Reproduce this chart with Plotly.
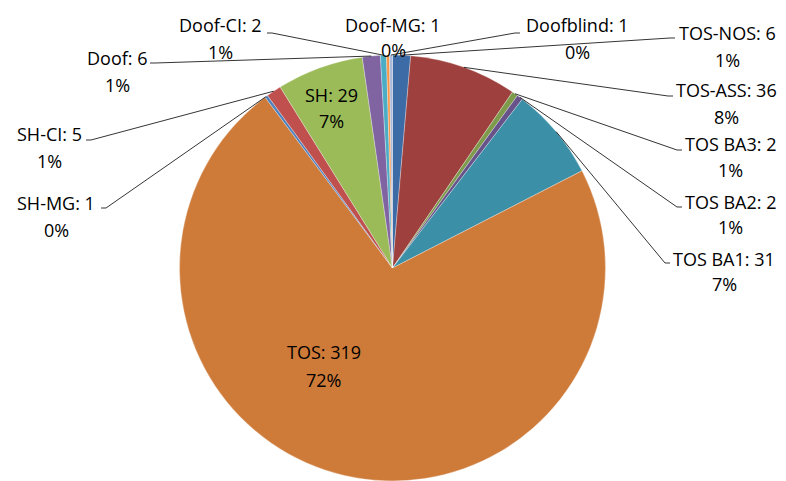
import math
import plotly.graph_objects as go

# ---- data (clockwise from 12 o'clock) ----
categories = ["TOS-NOS", "TOS-ASS", "TOS BA3", "TOS BA2", "TOS BA1", "TOS",
              "SH-MG", "SH-CI", "SH", "Doof", "Doof-CI", "Doof-MG", "Doofblind"]
values = [6, 36, 2, 2, 31, 319, 1, 5, 29, 6, 2, 1, 1]
colors = ["#3D6BA5", "#9E413E", "#7E9B4B", "#67528A", "#3B8FA7", "#CE7B3A",
          "#4F81BD", "#C0504D", "#9BBB59", "#8064A2", "#4BACC6", "#F79646", "#A9B9DA"]

# ---- layout of labels (pixel positions: line1 center, line2 center) ----
W, H = 786, 481
CX, CY, R = 392.5, 268.0, 213.0
label_pos = {
    "TOS-NOS": ((727, 33), (727, 60)),
    "TOS-ASS": ((726, 90), (726, 117)),
    "TOS BA3": ((730, 144), (730, 170)),
    "TOS BA2": ((730, 202), (730, 227)),
    "TOS BA1": ((724, 259), (724, 284)),
    "TOS": ((324, 352), (323, 380)),
    "SH-MG": ((56, 203), (56, 230)),
    "SH-CI": ((49, 134), (49, 161)),
    "SH": ((331, 95), (331, 121)),
    "Doof": ((117, 58), (117, 85)),
    "Doof-CI": ((220, 25), (220, 52)),
    "Doof-MG": ((393, 25), (393, 50)),
    "Doofblind": ((577, 25), (577, 52)),
}
# leader line: (text-side point, elbow point)
leader = {
    "TOS-NOS": ((675, 38), (670, 38)),
    "TOS-ASS": ((673, 96), (668, 96)),
    "TOS BA3": ((682, 150), (677, 150)),
    "TOS BA2": ((682, 207), (677, 207)),
    "TOS BA1": ((670, 263), (665, 263)),
    "SH-MG": ((101, 208), (106, 208)),
    "SH-CI": ((86, 140), (91, 140)),
    "Doof": ((150, 63), (155, 63)),
    "Doof-CI": ((267, 33), (272, 33)),
    "Doofblind": ((520, 33), (515, 33)),
}

total = sum(values)

# percentages rounded so they add up to 100 (largest remainder)
raw = [v / total * 100 for v in values]
pcts = [math.floor(r) for r in raw]
order = sorted(range(len(raw)), key=lambda i: raw[i] - pcts[i], reverse=True)
for i in order[:100 - sum(pcts)]:
    pcts[i] += 1


def px(x, y):
    return x / W, 1 - y / H


fig = go.Figure(go.Pie(
    labels=categories, values=values, sort=False, direction="clockwise",
    rotation=0, textinfo="none", hoverinfo="label+value+percent",
    marker=dict(colors=colors, line=dict(color="rgba(255,255,255,0.5)", width=0.6)),
    domain=dict(x=[(CX - R) / W, (CX + R) / W], y=[(H - CY - R) / H, (H - CY + R) / H]),
    showlegend=False,
))

annotations = []
shapes = []
font = dict(family="Open Sans, Carlito, Calibri, sans-serif", size=18, color="#000000")
cum = 0
for cat, v, p in zip(categories, values, pcts):
    mid = (cum + v / 2) / total * 2 * math.pi
    cum += v
    (x1, y1), (x2, y2) = label_pos[cat]
    for (lx, ly), txt in (((x1, y1), f"{cat}: {v}"), ((x2, y2), f"{p}%")):
        ax, ay = px(lx, ly)
        annotations.append(dict(x=ax, y=ay, xref="paper", yref="paper", text=txt,
                                showarrow=False, xanchor="center", yanchor="middle",
                                font=font))
    if cat in leader:
        ex = CX + R * math.sin(mid)
        ey = CY - R * math.cos(mid)
        (tx, ty), (bx, by) = leader[cat]
        pts = [px(ex, ey), px(bx, by), px(tx, ty)]
        path = "M {} {} L {} {} L {} {}".format(*[c for p in pts for c in p])
        shapes.append(dict(type="path", path=path, xref="paper", yref="paper",
                           line=dict(color="#000000", width=0.8)))

fig.update_layout(
    width=W, height=H, margin=dict(l=0, r=0, t=0, b=0),
    paper_bgcolor="white", plot_bgcolor="white",
    annotations=annotations, shapes=shapes,
)
fig.write_html("out.html", config={"displayModeBar": False},
               post_script="document.body.style.margin='0px';document.body.style.overflow='hidden';")
